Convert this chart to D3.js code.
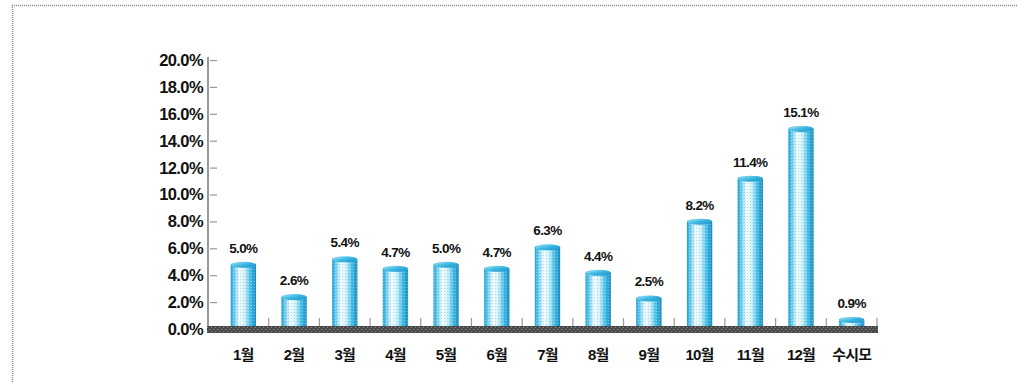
<!DOCTYPE html>
<html>
<head>
<meta charset="utf-8">
<script src="https://cdn.jsdelivr.net/npm/d3@7"></script>
<style>
  html, body { margin: 0; padding: 0; background: #fff; }
  svg { display: block; }
  text { font-family: "Liberation Sans", Arial, "Noto Sans CJK KR", sans-serif; font-weight: bold; fill: #111; }
</style>
</head>
<body>
<svg id="chart" width="1017" height="383"></svg>
<script>
// Monthly share (%)
const categories = ['1월','2월','3월','4월','5월','6월','7월','8월','9월','10월','11월','12월','수시모'];
const values = [5.0, 2.6, 5.4, 4.7, 5.0, 4.7, 6.3, 4.4, 2.5, 8.2, 11.4, 15.1, 0.9];
const yTicks = [0, 2, 4, 6, 8, 10, 12, 14, 16, 18, 20];

const svg = d3.select('#chart');
const W = 1017, H = 383;

// dotted frame (top and left edges)
svg.append('line').attr('x1', 12).attr('x2', W).attr('y1', 5.5).attr('y2', 5.5)
  .attr('stroke', '#888').attr('stroke-width', 1.5).attr('stroke-dasharray', '1,1');
svg.append('line').attr('x1', 12.5).attr('x2', 12.5).attr('y1', 5).attr('y2', H)
  .attr('stroke', '#888').attr('stroke-width', 1.5).attr('stroke-dasharray', '1,1');

const x = d3.scaleBand().domain(categories).range([218, 877]).paddingInner(0.5).paddingOuter(0.25);
const y = d3.scaleLinear().domain([0, 20]).range([329, 60]);

const defs = svg.append('defs');
// cylinder body shading
const g1 = defs.append('linearGradient').attr('id', 'cyl').attr('x1', 0).attr('x2', 1).attr('y1', 0).attr('y2', 0);
[[0, '#22a0d2'], [0.15, '#6fd0ef'], [0.35, '#f6fdff'], [0.55, '#d2f3fb'], [0.78, '#45c0e8'], [1, '#178ac0']]
  .forEach(([o, c]) => g1.append('stop').attr('offset', o).attr('stop-color', c));
// cap shading
const g2 = defs.append('linearGradient').attr('id', 'cap').attr('x1', 0).attr('x2', 1).attr('y1', 0).attr('y2', 1);
[[0, '#a8e8f8'], [0.5, '#3cb6e2'], [1, '#1c92c4']]
  .forEach(([o, c]) => g2.append('stop').attr('offset', o).attr('stop-color', c));
// dotted texture
const pat = defs.append('pattern').attr('id', 'dots').attr('width', 3).attr('height', 3).attr('patternUnits', 'userSpaceOnUse');
pat.append('rect').attr('x', 0).attr('y', 0).attr('width', 1).attr('height', 1).attr('fill', 'rgba(40,120,170,0.28)');
pat.append('rect').attr('x', 2).attr('y', 2).attr('width', 1).attr('height', 1).attr('fill', 'rgba(255,255,255,0.35)');
// hatched floor band
const hat = defs.append('pattern').attr('id', 'floor').attr('width', 4).attr('height', 4).attr('patternUnits', 'userSpaceOnUse');
hat.append('rect').attr('width', 4).attr('height', 4).attr('fill', '#4a4a4a');
hat.append('rect').attr('x', 1).attr('y', 1).attr('width', 1).attr('height', 1).attr('fill', '#8a8a8a');
hat.append('rect').attr('x', 3).attr('y', 3).attr('width', 1).attr('height', 1).attr('fill', '#8a8a8a');

// y axis
const yAxis = d3.axisRight(y).tickValues(yTicks).tickSize(7).tickFormat('');
const ya = svg.append('g').attr('transform', 'translate(210,0)').call(yAxis);
ya.select('.domain').remove();
ya.selectAll('.tick line').attr('stroke', '#999').attr('stroke-width', 1.2);
svg.append('line').attr('x1', 208).attr('x2', 208).attr('y1', y(20) - 3).attr('y2', 328)
  .attr('stroke', '#999').attr('stroke-width', 2);

svg.append('g').selectAll('text').data(yTicks).join('text')
  .attr('x', 203).attr('y', d => y(d)).attr('dy', '0.36em')
  .attr('text-anchor', 'end').style('font-size', '16.5px').style('letter-spacing', '-0.6px')
  .text(d => d3.format('.1f')(d) + '%');

// category separators
const bounds = categories.slice(1).map(c => x(c) - x.step() * x.paddingInner() / 2).concat([877]);
svg.append('g').selectAll('line').data(bounds).join('line')
  .attr('x1', d => d).attr('x2', d => d).attr('y1', 318).attr('y2', 327)
  .attr('stroke', '#999').attr('stroke-width', 1.2);

// bars
const bw = x.bandwidth();
const capH = 6;
const bars = svg.append('g');
categories.forEach((c, i) => {
  const x0 = x(c), top = y(values[i]), bottom = 328;
  const body = `M${x0},${bottom} L${x0},${top + capH / 2} A${bw / 2},${capH / 2} 0 0 1 ${x0 + bw},${top + capH / 2} L${x0 + bw},${bottom} Z`;
  bars.append('path').attr('d', body).attr('fill', 'url(#cyl)');
  bars.append('path').attr('d', body).attr('fill', 'url(#dots)');
  bars.append('ellipse')
    .attr('cx', x0 + bw / 2).attr('cy', top + capH / 2)
    .attr('rx', bw / 2 - 0.5).attr('ry', capH / 2)
    .attr('fill', 'url(#cap)');
});

// floor band
svg.append('rect').attr('x', 207).attr('y', 326).attr('width', 671).attr('height', 7)
  .attr('fill', 'url(#floor)');

// value labels
svg.append('g').selectAll('text').data(values).join('text')
  .attr('x', (d, i) => x(categories[i]) + bw / 2)
  .attr('y', d => y(d) - 9)
  .attr('text-anchor', 'middle').style('font-size', '13.5px').style('letter-spacing', '-0.6px')
  .text(d => d3.format('.1f')(d) + '%');

// category labels
svg.append('g').selectAll('text').data(categories).join('text')
  .attr('x', d => x(d) + bw / 2).attr('y', 360)
  .attr('text-anchor', 'middle').style('font-size', '15px').style('letter-spacing', '-0.8px')
  .text(d => d);
</script>
</body>
</html>
